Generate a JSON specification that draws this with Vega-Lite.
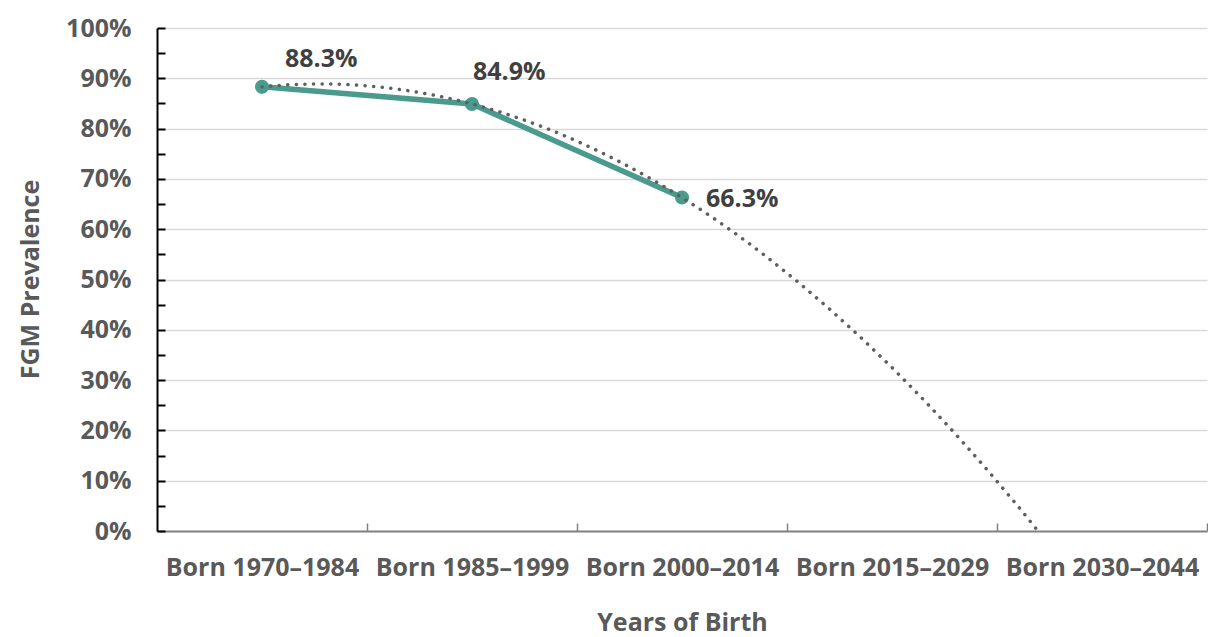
{
  "$schema": "https://vega.github.io/schema/vega-lite/v6.json",
  "autosize": "none",
  "width": 1050,
  "height": 503,
  "padding": {"left": 157, "top": 28, "right": 1, "bottom": 106},
  "background": "white",
  "config": {
    "view": {"stroke": null},
    "font": "Open Sans",
    "axis": {"labelFont": "Open Sans", "titleFont": "Open Sans", "labelFontWeight": "bold", "titleFontWeight": "bold", "labelColor": "#595959", "titleColor": "#595959", "labelFontSize": 25, "titleFontSize": 25, "labelLimit": 400, "titleLimit": 600}
  },
  "data": {
    "values": [
      {"period": "Born 1970–1984", "idx": 1, "value": 0.883},
      {"period": "Born 1985–1999", "idx": 2, "value": 0.849},
      {"period": "Born 2000–2014", "idx": 3, "value": 0.663}
    ]
  },
  "encoding": {
    "x": {
      "field": "idx", "type": "quantitative",
      "scale": {"domain": [0.5, 5.5], "nice": false, "zero": false},
      "axis": {
        "title": "Years of Birth",
        "values": [1, 1.5, 2, 2.5, 3, 3.5, 4, 4.5, 5, 5.5],
        "labelExpr": "datum.value % 1 == 0 ? ['Born 1970–1984','Born 1985–1999','Born 2000–2014','Born 2015–2029','Born 2030–2044'][datum.value - 1] : ''",
        "grid": false,
        "domainColor": "#808080",
        "domainWidth": 2,
        "tickColor": "#808080",
        "tickWidth": 1.5,
        "tickSize": -8,
        "tickOpacity": {"condition": {"test": "datum.value % 1 == 0", "value": 0}, "value": 1},
        "labelPadding": 32,
        "labelOverlap": false,
        "labelFlush": false,
        "titleX": 525,
        "titleY": 91,
        "titleBaseline": "middle"
      }
    },
    "y": {
      "field": "value", "type": "quantitative",
      "scale": {"domain": [0, 1], "nice": false},
      "axis": {
        "title": "FGM Prevalence",
        "values": [0, 0.05, 0.1, 0.15, 0.2, 0.25, 0.3, 0.35, 0.4, 0.45, 0.5, 0.55, 0.6, 0.65, 0.7, 0.75, 0.8, 0.85, 0.9, 0.95, 1],
        "labelExpr": "round(datum.value * 100) % 10 == 0 ? format(datum.value, '.0%') : ''",
        "domainColor": "black",
        "domainWidth": 2,
        "tickColor": "black",
        "tickWidth": 2,
        "tickSize": -8,
        "gridColor": "#d9d9d9",
        "gridWidth": 1.5,
        "gridOpacity": {"condition": {"test": "round(datum.value * 100) % 10 == 0 && datum.value > 0", "value": 1}, "value": 0},
        "labelPadding": 34,
        "labelOverlap": false,
        "labelFlush": false,
        "titleX": -127,
        "titleY": 251,
        "titleAngle": -90,
        "titleAlign": "center",
        "titleBaseline": "middle"
      }
    }
  },
  "layer": [
    {"mark": {"type": "line", "color": "#4a9a8e", "strokeWidth": 5.5}},
    {"mark": {"type": "point", "filled": true, "color": "#4a9a8e", "size": 200, "opacity": 1}},
    {
      "transform": [{"regression": "value", "on": "idx", "method": "poly", "order": 2, "extent": [1, 4.75]}],
      "mark": {"type": "line", "color": "#5f5f5f", "strokeWidth": 3.5, "strokeDash": [0.1, 8.5], "strokeCap": "round", "clip": true}
    },
    {
      "transform": [{"filter": "datum.idx == 1"}],
      "mark": {"type": "text", "align": "left", "baseline": "middle", "dx": 23, "dy": -28, "fontSize": 25, "fontWeight": "bold", "color": "#404040", "font": "Open Sans"},
      "encoding": {"text": {"field": "value", "type": "quantitative", "format": ".1%"}}
    },
    {
      "transform": [{"filter": "datum.idx == 2"}],
      "mark": {"type": "text", "align": "left", "baseline": "middle", "dx": 1, "dy": -32, "fontSize": 25, "fontWeight": "bold", "color": "#404040", "font": "Open Sans"},
      "encoding": {"text": {"field": "value", "type": "quantitative", "format": ".1%"}}
    },
    {
      "transform": [{"filter": "datum.idx == 3"}],
      "mark": {"type": "text", "align": "left", "baseline": "middle", "dx": 24, "dy": 1, "fontSize": 25, "fontWeight": "bold", "color": "#404040", "font": "Open Sans"},
      "encoding": {"text": {"field": "value", "type": "quantitative", "format": ".1%"}}
    }
  ]
}
